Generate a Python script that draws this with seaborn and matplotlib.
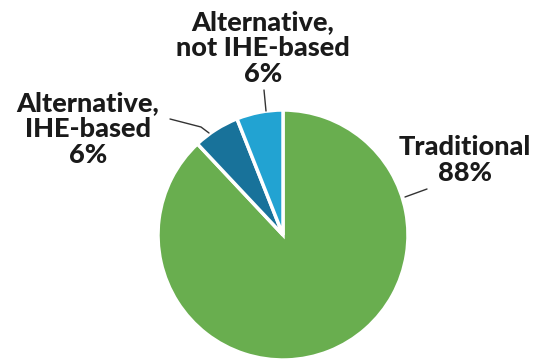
import matplotlib
matplotlib.use("Agg")
import matplotlib.pyplot as plt
import seaborn as sns

categories = ["Traditional", "Alternative,\nIHE-based", "Alternative,\nnot IHE-based"]
shares = [88, 6, 6]
colors = ["#69ae4f", "#18729a", "#22a3d2"]

sns.set_theme(style="white")
plt.rcParams["font.family"] = ["Lato", "DejaVu Sans"]

W, H = 538, 360
fig = plt.figure(figsize=(W / 100, H / 100), dpi=100)
ax = fig.add_axes([0, 0, 1, 1])

cx, cy, r = 283, H - 235, 125
ax.pie(shares, colors=colors, startangle=90, counterclock=False,
       center=(cx, cy), radius=r, frame=True,
       wedgeprops=dict(edgecolor="white", linewidth=2.5))
ax.set_xlim(0, W)
ax.set_ylim(0, H)
ax.set_aspect("equal")
ax.axis("off")

txt = dict(ha="center", va="center", fontsize=19.5, fontweight="black",
           color="#1a1a1a", linespacing=1.08)
labels = [f"{c}\n{v}%" for c, v in zip(categories, shares)]
ax.text(465, H - 160, labels[0], **txt)
ax.text(88, H - 129, labels[1], **txt)
ax.text(263, H - 48, labels[2], **txt)

line = dict(color="#333333", lw=1)
ax.plot([405, 427], [H - 197, H - 189], **line)
ax.plot([170, 201, 209], [H - 119, H - 127, H - 133], **line)
ax.plot([264, 266], [H - 90, H - 111], **line)

fig.savefig("out.png", dpi=100)
